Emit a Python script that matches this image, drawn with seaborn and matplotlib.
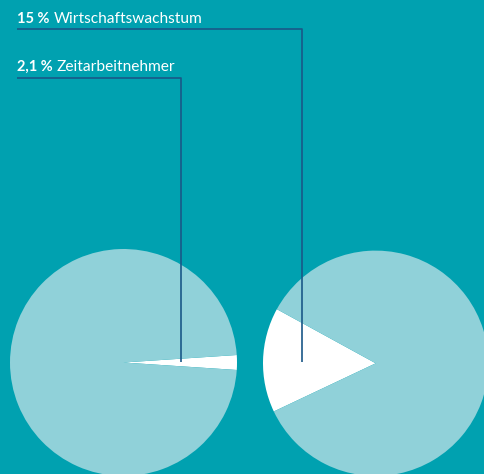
import matplotlib
matplotlib.use("Agg")
import matplotlib.pyplot as plt
import seaborn as sns

# Data
labels_bold = ["15 %", "2,1 %"]
labels_text = ["Wirtschaftswachstum", "Zeitarbeitnehmer"]
share_left = [2.1, 97.9]     # Zeitarbeitnehmer
share_right = [15.0, 85.0]   # Wirtschaftswachstum

BG = "#00a1b0"
LIGHT = "#90d1d9"
WHITE = "#ffffff"
LINE = "#1a5888"

sns.set_theme(style="white")
plt.rcParams['font.family'] = ['Lato', 'DejaVu Sans']

W, H = 485, 474
fig = plt.figure(figsize=(W / 100, H / 100), dpi=100, facecolor=BG)
ax = fig.add_axes([0, 0, 1, 1])
ax.set_facecolor(BG)

def Y(py):
    return H - py

# Left pie: white slice centred at 0 deg
ax.pie(share_left, colors=[WHITE, LIGHT], center=(123.5, Y(362.5)), radius=113.5,
       startangle=-share_left[0] * 3.6 / 2, counterclock=True,
       wedgeprops=dict(linewidth=0), frame=True)
# Right pie: white slice centred near 178 deg
ax.pie(share_right, colors=[WHITE, LIGHT], center=(375.7, Y(363.3)), radius=112.7,
       startangle=178.3 - share_right[0] * 3.6 / 2, counterclock=True,
       wedgeprops=dict(linewidth=0), frame=True)

ax.set_xlim(0, W)
ax.set_ylim(0, H)
ax.set_aspect('equal')
ax.axis('off')

# Leader lines
ax.plot([16.7, 302.3, 302.3], [Y(29.3), Y(29.3), Y(361.7)], color=LINE, lw=1.2, solid_capstyle='butt')
ax.plot([16.7, 181.3, 181.3], [Y(78.3), Y(78.3), Y(361.7)], color=LINE, lw=1.2, solid_capstyle='butt')

# Labels
fig.canvas.draw()
r = fig.canvas.get_renderer()
for bold, txt, base in zip(labels_bold, labels_text, [22.7, 71.0]):
    t = ax.text(16.7, Y(base), bold, color=WHITE, fontsize=10.5, fontweight='bold',
                ha='left', va='baseline')
    bb = t.get_window_extent(renderer=r)
    x2 = bb.x1 + 4.5
    ax.text(x2, Y(base), txt, color=WHITE, fontsize=11.2, ha='left', va='baseline')

fig.savefig("out.png", dpi=100, facecolor=BG)
